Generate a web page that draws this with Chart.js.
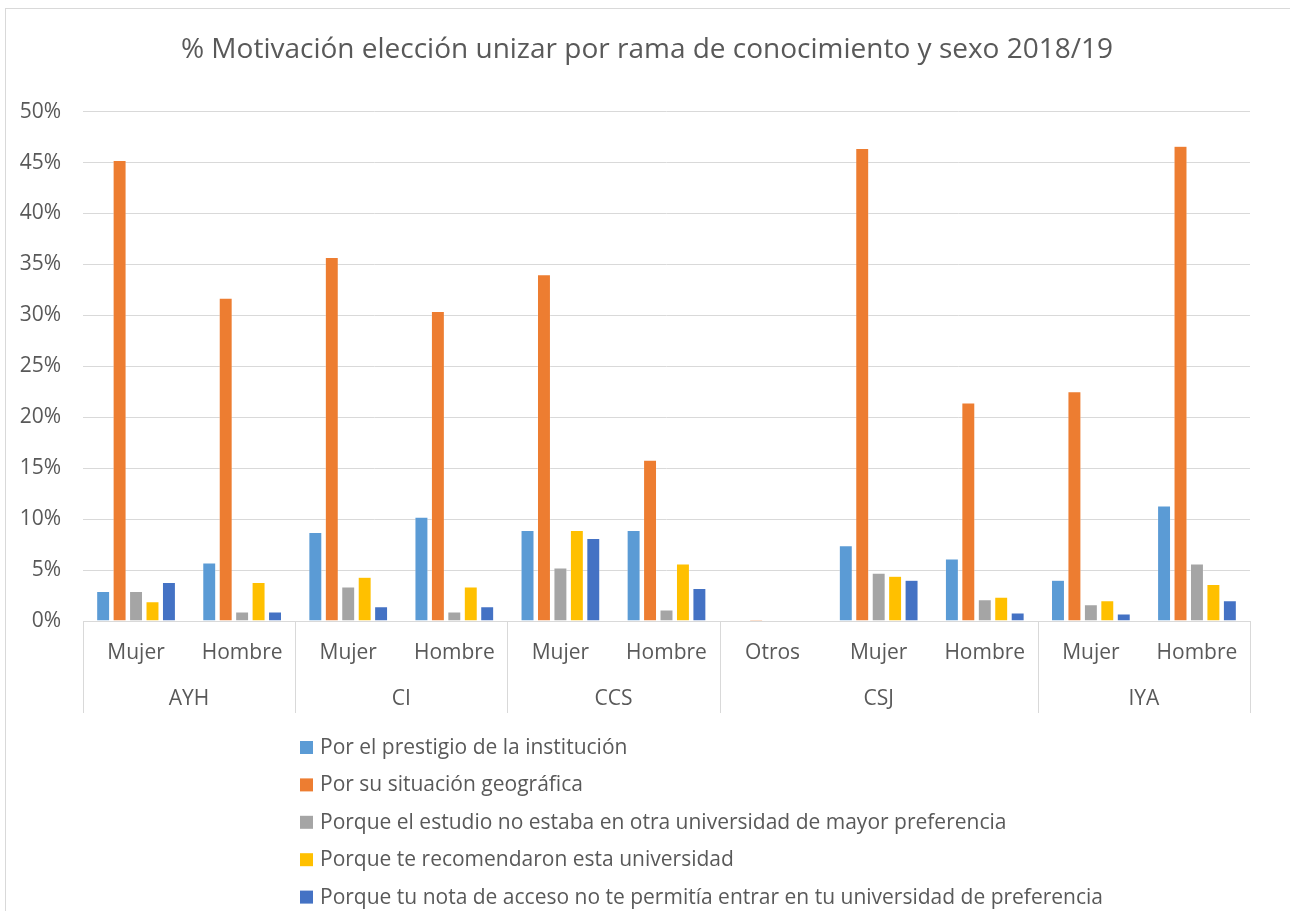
<!DOCTYPE html>
<html>
<head>
<meta charset="utf-8">
<script src="https://cdn.jsdelivr.net/npm/chart.js@4.4.1/dist/chart.umd.min.js"></script>
<style>
  html, body { margin: 0; padding: 0; background: #ffffff; }
  body { width: 1290px; height: 911px; position: relative; overflow: hidden; }
  #frame { position: absolute; left: 5px; top: 8px; width: 1300px; height: 920px; border: 1px solid #d9d9d9; box-sizing: border-box; }
  #wrap { position: absolute; left: 0; top: 0; width: 1290px; height: 911px; }
</style>
</head>
<body>
<div id="frame"></div>
<div id="wrap"><canvas id="c" width="1290" height="911"></canvas></div>
<script>
const TITLE = '% Motivación elección unizar por rama de conocimiento y sexo 2018/19';
const categories = ['Mujer', 'Hombre', 'Mujer', 'Hombre', 'Mujer', 'Hombre', 'Otros', 'Mujer', 'Hombre', 'Mujer', 'Hombre'];
const groups = ['AYH', 'AYH', 'CI', 'CI', 'CCS', 'CCS', 'CSJ', 'CSJ', 'CSJ', 'IYA', 'IYA'];
const seriesNames = [
  'Por el prestigio de la institución',
  'Por su situación geográfica',
  'Porque el estudio no estaba en otra universidad de mayor preferencia',
  'Porque te recomendaron esta universidad',
  'Porque tu nota de acceso no te permitía entrar en tu universidad de preferencia'
];
const prestigio    = [2.9, 5.7, 8.7, 10.2, 8.9, 8.9, 0.0, 7.4, 6.1, 4.0, 11.3];
const geografica   = [45.2, 31.7, 35.7, 30.4, 34.0, 15.8, 0.15, 46.4, 21.4, 22.5, 46.6];
const noEstaba     = [2.9, 0.9, 3.35, 0.9, 5.2, 1.1, 0.0, 4.7, 2.1, 1.6, 5.6];
const recomendaron = [1.9, 3.8, 4.3, 3.35, 8.9, 5.6, 0.0, 4.4, 2.35, 2.0, 3.6];
const notaAcceso   = [3.8, 0.9, 1.4, 1.4, 8.1, 3.2, 0.0, 4.0, 0.8, 0.7, 2.0];
const yTicks = [0, 5, 10, 15, 20, 25, 30, 35, 40, 45, 50];
const colors = ['#5b9bd5', '#ed7d31', '#a5a5a5', '#ffc000', '#4472c4'];

const FONT = '"Open Sans", Lato, sans-serif';
const TEXT = '#595959';
const GRID = '#d9d9d9';
const FS = 21;

const seriesValues = [prestigio, geografica, noEstaba, recomendaron, notaAcceso];
const datasets = seriesValues.map((vals, i) => ({
  label: seriesNames[i],
  data: vals,
  backgroundColor: colors[i],
  borderColor: 'rgba(255,255,255,0.55)',
  borderWidth: 0.6,
  categoryPercentage: 0.775,
  barPercentage: 0.8
}));

const groupPlugin = {
  id: 'groupAxis',
  afterLayout(chart) {
    const t = chart.titleBlock;
    if (t) { t.left += 22; t.right += 22; }
  },
  afterDraw(chart) {
    const ctx = chart.ctx;
    const xs = chart.scales.x;
    const area = chart.chartArea;
    const n = categories.length;
    const top = area.bottom;
    const bottom = top + 92;
    ctx.save();
    ctx.strokeStyle = GRID;
    ctx.lineWidth = 1;
    const bounds = [0];
    for (let i = 1; i < n; i++) if (groups[i] !== groups[i - 1]) bounds.push(i);
    bounds.push(n);
    bounds.forEach(b => {
      const x = Math.round(xs.getPixelForValue(b - 0.5)) + 0.5;
      ctx.beginPath();
      ctx.moveTo(x, top);
      ctx.lineTo(x, bottom);
      ctx.stroke();
    });
    ctx.fillStyle = TEXT;
    ctx.font = FS + 'px ' + FONT;
    ctx.textAlign = 'center';
    ctx.textBaseline = 'middle';
    for (let k = 0; k < bounds.length - 1; k++) {
      const a = bounds[k], b = bounds[k + 1];
      const cx = (xs.getPixelForValue(a - 0.5) + xs.getPixelForValue(b - 0.5)) / 2;
      ctx.fillText(groups[a], cx, top + 78);
    }
    // legend
    ctx.textAlign = 'left';
    const lx = 300, ly0 = 747, step = 37.4;
    chart.data.datasets.forEach((ds, i) => {
      const y = ly0 + i * step;
      ctx.fillStyle = ds.backgroundColor;
      ctx.fillRect(lx, y - 6, 13, 13);
      ctx.fillStyle = TEXT;
      ctx.fillText(ds.label, lx + 20, y + 1);
    });
    ctx.restore();
  }
};

new Chart(document.getElementById('c'), {
  type: 'bar',
  data: { labels: categories, datasets },
  options: {
    responsive: false,
    animation: false,
    devicePixelRatio: 1,
    layout: { padding: { left: 0, right: 40, top: 0, bottom: 198 } },
    plugins: {
      legend: { display: false },
      tooltip: { enabled: false },
      title: {
        display: true,
        text: TITLE,
        color: TEXT,
        font: { family: FONT, size: 28, weight: 'normal' },
        padding: { top: 33, bottom: 45 }
      }
    },
    scales: {
      x: {
        grid: { display: false, drawTicks: false },
        border: { display: true, color: GRID, width: 1 },
        ticks: { color: TEXT, font: { family: FONT, size: FS }, padding: 19, maxRotation: 0, autoSkip: false },
        afterFit(s) { s.height = 92; }
      },
      y: {
        min: 0,
        max: 50,
        afterBuildTicks(s) { s.ticks = yTicks.map(v => ({ value: v })); },
        grid: { color: GRID, lineWidth: 1, drawTicks: false },
        border: { display: false },
        ticks: { color: TEXT, font: { family: FONT, size: FS }, padding: 22, callback: v => v + '%' },
        afterFit(s) { s.width = 83; }
      }
    }
  },
  plugins: [groupPlugin]
});
</script>
</body>
</html>
